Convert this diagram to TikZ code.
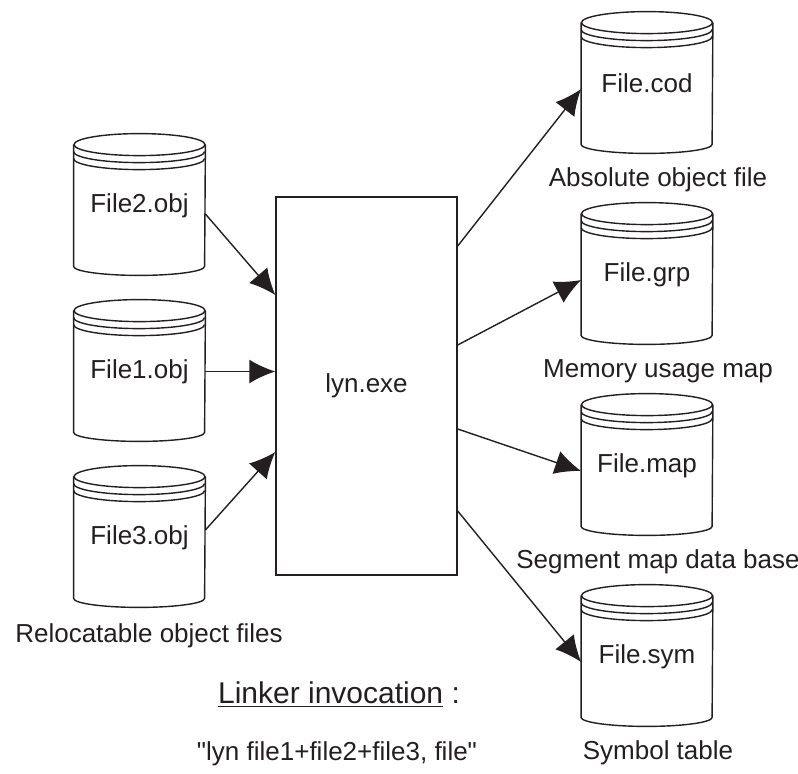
\documentclass[tikz,border=0pt]{standalone}
\usepackage{fontspec}
\setmainfont{Liberation Sans}
\usepackage{xcolor}
\usetikzlibrary{arrows.meta,positioning,calc}
\definecolor{ink}{HTML}{231F20}
\tikzset{
  linkarr/.style={-{Latex[length=13pt,width=12pt]}, line width=0.7pt, draw=ink},
  dbline/.style={line width=0.7pt, draw=ink},
  dbbody/.style={minimum width=65.5pt, minimum height=60.5pt, inner sep=0pt},
}
% database drum: name, centre of body, file name
\newcommand{\dbfile}[3]{%
  \node[dbbody] (#1) at (#2) {#3};
  \draw[dbline] (#1.north) ellipse [x radius=32.75pt, y radius=5.5pt];
  \draw[dbline] ([yshift=-3.5pt]#1.north west) arc [start angle=180, end angle=360, x radius=32.75pt, y radius=5.5pt];
  \draw[dbline] ([yshift=-7pt]#1.north west) arc [start angle=180, end angle=360, x radius=32.75pt, y radius=5.5pt];
  \draw[dbline] (#1.north west) -- (#1.south west)
    arc [start angle=180, end angle=360, x radius=32.75pt, y radius=4.5pt] -- (#1.north east);
}

\begin{document}
\begin{tikzpicture}[
  x=0.5pt, y=0.5pt,
  font=\fontsize{13}{15.6}\selectfont, text=ink,
  lbl/.style={inner sep=0pt},
]
  \useasboundingbox (0,0) rectangle (798,773);

  % inputs
  \dbfile{f2}{139.5,567.5}{File2.obj}
  \dbfile{f1}{139.5,401.5}{File1.obj}
  \dbfile{f3}{139.5,235.5}{File3.obj}
  \node[lbl] (reloc) at (149,137) {Relocatable object files};

  % linker
  \node[draw=ink, line width=0.7pt, minimum width=90.5pt, minimum height=189pt] (lyn) at (366.5,387) {lyn.exe};

  % outputs
  \dbfile{cod}{647,689.5}{File.cod}
  \dbfile{grp}{647,498.5}{File.grp}
  \dbfile{map}{647,307.5}{File.map}
  \dbfile{sym}{647,116.5}{File.sym}
  \node[lbl] (codl) at (658,593) {Absolute object file};
  \node[lbl] (grpl) at (658,402) {Memory usage map};
  \node[lbl] (mapl) at (658,211) {Segment map data base};
  \node[lbl] (syml) at (658,20) {Symbol table};

  % invocation
  \node[lbl, font=\fontsize{15}{18}\selectfont] (inv) at (339,78) {\underline{Linker invocation}\ :};
  \node[lbl] (cmd) at (337,19) {\textquotedbl lyn file1+file2+file3, file\textquotedbl};

  \draw[linkarr] ([yshift=-4.25pt]f2.east) -- ([yshift=45.5pt]lyn.west);
  \draw[linkarr] (f1.east) -- (f1.east -| lyn.west);
  \draw[linkarr] ([yshift=3.75pt]f3.east) -- ([yshift=-33pt]lyn.west);

  \draw[linkarr] ([yshift=70pt]lyn.east) -- ([yshift=-2.75pt]cod.west);
  \draw[linkarr] ([yshift=20.5pt]lyn.east) -- ([yshift=-2.75pt]grp.west);
  \draw[linkarr] ([yshift=-21.5pt]lyn.east) -- ([yshift=-2.75pt]map.west);
  \draw[linkarr] ([yshift=-62.5pt]lyn.east) -- ([yshift=-2.75pt]sym.west);
\end{tikzpicture}
\end{document}
